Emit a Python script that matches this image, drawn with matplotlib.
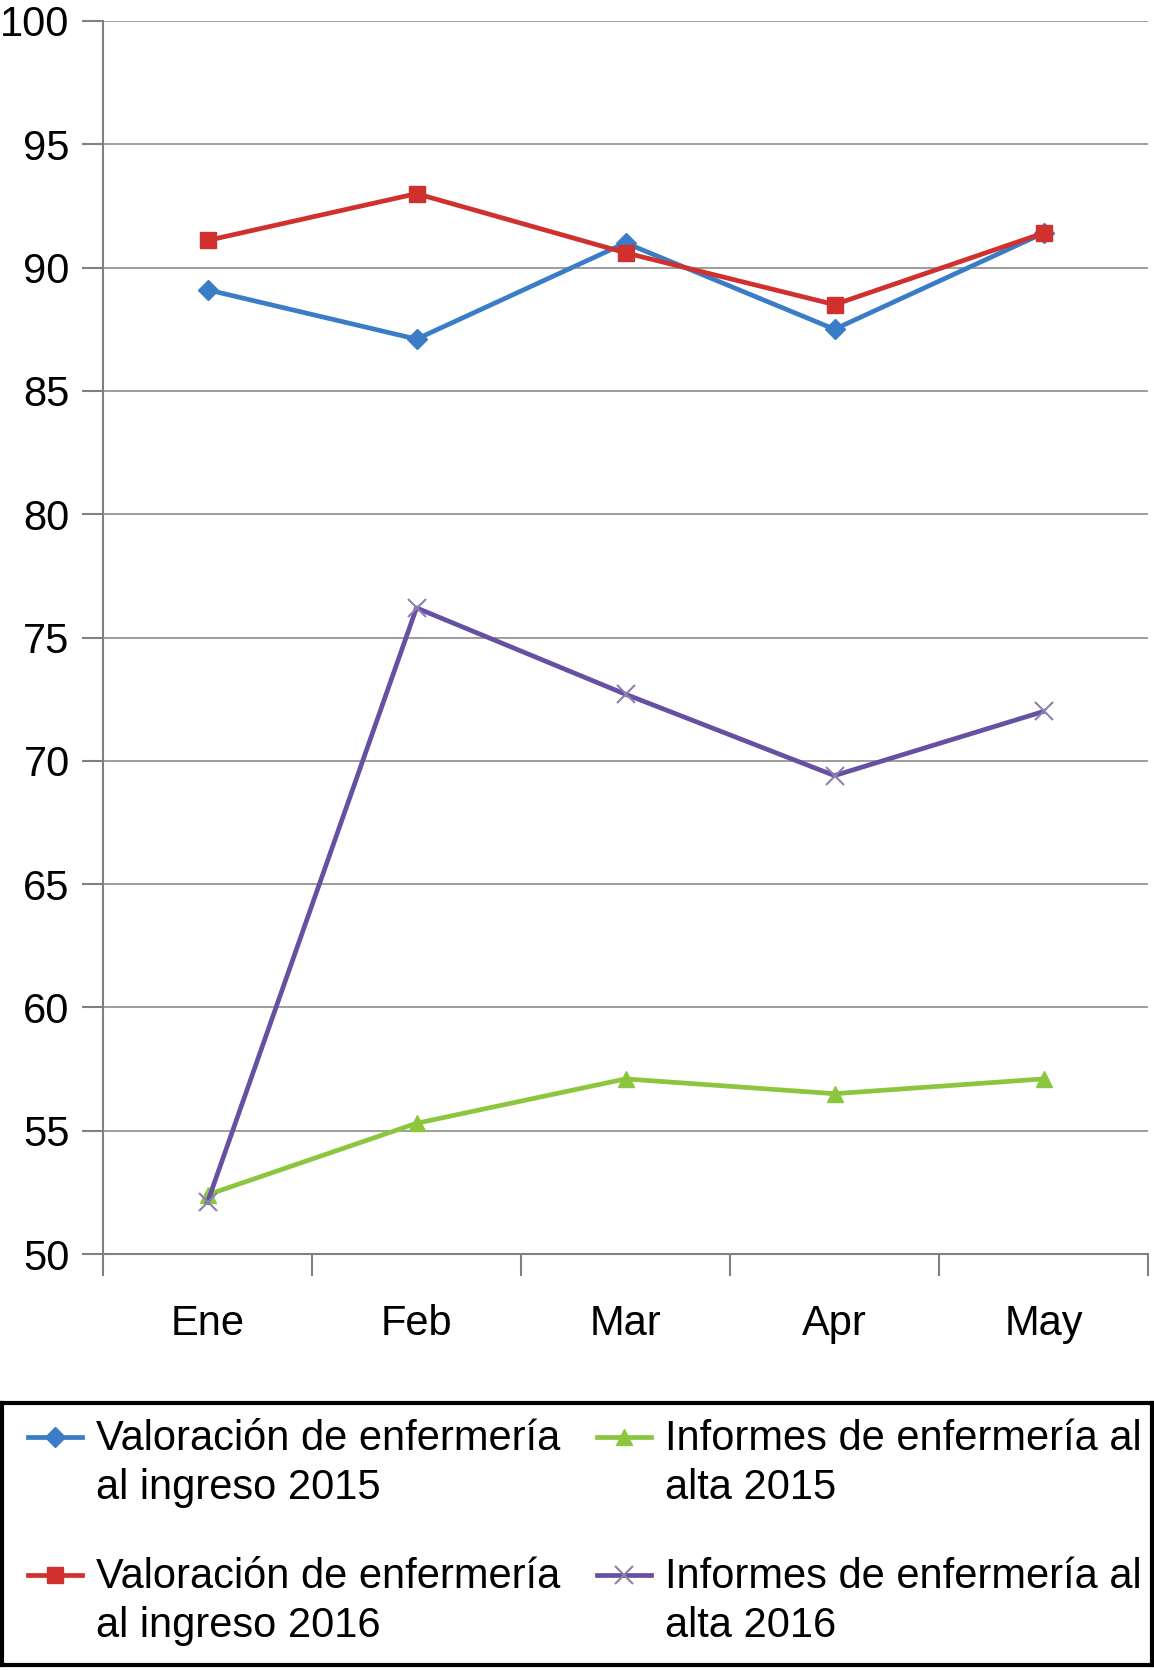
import matplotlib
matplotlib.use('Agg')
import matplotlib.pyplot as plt
from matplotlib.lines import Line2D

plt.rcParams['font.family'] = ['Liberation Sans', 'DejaVu Sans']

months = ['Ene', 'Feb', 'Mar', 'Apr', 'May']
val_2015 = [89.1, 87.1, 91.0, 87.5, 91.4]
val_2016 = [91.1, 93.0, 90.6, 88.5, 91.4]
inf_2015 = [52.4, 55.3, 57.1, 56.5, 57.1]
inf_2016 = [52.1, 76.2, 72.7, 69.4, 72.0]

labels = ['Valoración de enfermería\nal ingreso 2015',
          'Valoración de enfermería\nal ingreso 2016',
          'Informes de enfermería al\nalta 2015',
          'Informes de enfermería al\nalta 2016']

blue = '#3A7CC6'
red = '#D0302E'
green = '#8CC63F'
purple = '#6650A2'

styles = [
    dict(color=blue, marker='D', markersize=10, mfc=blue, mec=blue),
    dict(color=red, marker='s', markersize=12, mfc=red, mec=red),
    dict(color=green, marker='^', markersize=11, mfc=green, mec=green),
    dict(color=purple, marker='x', markersize=13, mec='#8A80AE', mew=1.5),
]

W, H = 1154, 1670
fig = plt.figure(figsize=(W / 100, H / 100), dpi=100)
ax = fig.add_axes([103 / W, 1 - 1254 / H, (1148 - 103) / W, (1254 - 21) / H])

x = list(range(len(months)))
series = [val_2015, val_2016, inf_2015, inf_2016]
for i in range(4):
    ax.plot(x, series[i], lw=3.4, zorder=3, **styles[i])

ax.set_xlim(-0.5, len(months) - 0.5)
ax.set_ylim(50, 100)
ax.set_yticks(range(50, 101, 5))
ax.yaxis.grid(True, color='#8c8c8c', lw=1.2)
ax.set_axisbelow(True)

for s in ['top', 'right']:
    ax.spines[s].set_visible(False)
for s in ['left', 'bottom']:
    ax.spines[s].set_color('#808080')
    ax.spines[s].set_linewidth(1.5)

ax.set_xticks([i + 0.5 for i in range(-1, len(months))])
ax.set_xticklabels([])
ax.set_xticks(x, minor=True)
ax.set_xticklabels(months, minor=True)
ax.tick_params(axis='x', which='major', length=16, width=1.5, color='#808080')
ax.tick_params(axis='x', which='minor', length=0, pad=36, labelsize=30)
ax.tick_params(axis='y', length=15, width=1.5, color='#808080', labelsize=30, pad=9)

# legend box
lax = fig.add_axes([2 / W, 5 / H, 1150 / W, 262 / H])
lax.set_xlim(0, W)
lax.set_ylim(H - 5, H - 267)
lax.set_xticks([])
lax.set_yticks([])
for s in lax.spines.values():
    s.set_linewidth(3)
    s.set_color('black')

pos = [(26, 1437), (26, 1575), (597, 1437), (597, 1575)]
for i, (px, py) in enumerate(pos):
    st = dict(styles[i])
    lax.add_line(Line2D([px, px + 54], [py, py], lw=3.4, color=st.pop('color')))
    lax.add_line(Line2D([px + 27], [py], ls='none', **st))
    lax.text(px + 68, py - 18, labels[i], fontsize=30, va='top', ha='left',
             linespacing=1.3)

fig.savefig('out.png', dpi=100)
